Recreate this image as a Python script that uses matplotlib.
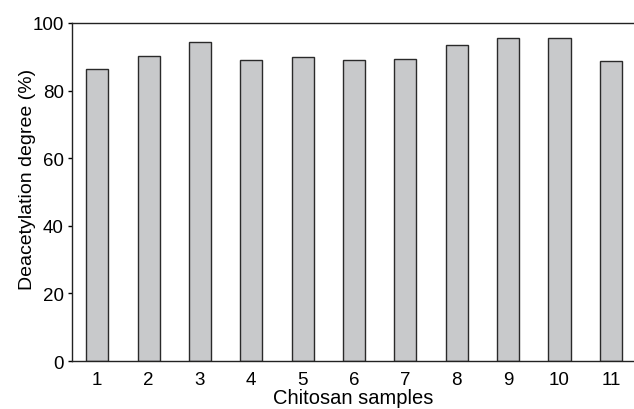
import matplotlib
matplotlib.use('Agg')
import matplotlib.pyplot as plt

samples = ['1', '2', '3', '4', '5', '6', '7', '8', '9', '10', '11']
deacetylation = [86.4, 90.3, 94.4, 89.1, 89.9, 89.1, 89.4, 93.5, 95.7, 95.7, 88.7]

plt.rcParams['font.family'] = ['Liberation Sans', 'DejaVu Sans']

fig = plt.figure(figsize=(6.34, 4.10), dpi=100)
ax = fig.add_axes([0.1136, 0.117, 0.8864, 0.8245])

pos = list(range(1, len(samples) + 1))
ax.bar(pos, deacetylation, width=0.43, color='#c8c9cb', edgecolor='#2a2a2a', linewidth=1.0)

ax.set_xlim(0.51, 11.45)
ax.set_ylim(0, 100)
ax.set_xticks(pos)
ax.set_xticklabels(samples)
ax.set_yticks([0, 20, 40, 60, 80, 100])

ax.spines['right'].set_visible(False)
for s in ['left', 'top', 'bottom']:
    ax.spines[s].set_linewidth(1.0)
    ax.spines[s].set_color('#222222')

ax.tick_params(axis='x', length=0, pad=7, labelsize=13.5)
ax.tick_params(axis='y', length=3, width=1.0, pad=3, labelsize=13.5, direction='out')

ax.set_xlabel('Chitosan samples', fontsize=14.5, labelpad=0)
ax.set_ylabel('Deacetylation degree (%)', fontsize=14, va='center')
ax.yaxis.set_label_coords(-0.08, 0.541)

fig.savefig('out.png', dpi=100)
